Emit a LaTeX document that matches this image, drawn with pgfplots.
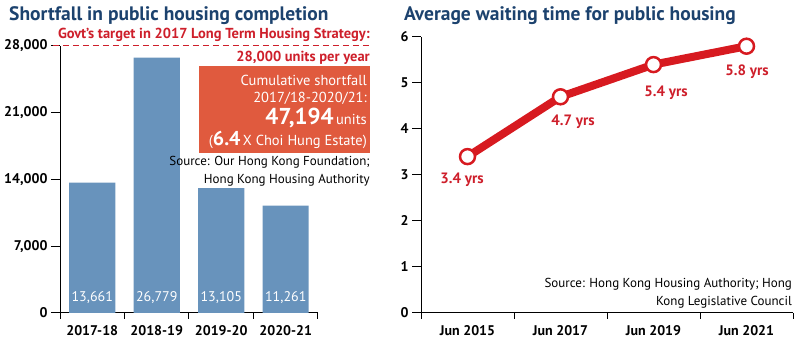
\documentclass[border=0pt]{standalone}
\usepackage{pgfplots}
\pgfplotsset{compat=1.18}
\usepackage{fontspec}
\setmainfont{PT Sans}
\definecolor{navy}{HTML}{1C426E}
\definecolor{barblue}{HTML}{6893BC}
\definecolor{boxred}{HTML}{E05A3E}
\definecolor{linered}{HTML}{D71A20}
\definecolor{txtred}{HTML}{CE1F2B}
\pgfplotsset{
  mystyle/.style={
    scale only axis, anchor=south west,
    xmin=-0.5, xmax=3.5, clip=false,
    axis x line*=bottom, axis y line*=left,
    axis line style={-, line width=1pt, black},
    xtick={0,1,2,3}, major x tick style={draw=none},
    minor xtick={-0.5,0.5,1.5,2.5,3.5},
    minor x tick style={line width=1pt, black},
    tick align=outside,
    major y tick style={line width=1pt, black},
    major tick length=9pt, minor tick length=6pt,
    /pgf/number format/assume math mode=true,
    tick label style={font=\fontsize{14}{15}\selectfont\bfseries},
    scaled y ticks=false,
    yticklabel style={/pgf/number format/1000 sep={,}},
  }
}
\begin{document}
\begin{tikzpicture}[x=1pt,y=1pt]
\path[use as bounding box] (0,0) rectangle (800,339);
\node[anchor=west, inner sep=0, text=navy] at (9,323) {\fontsize{19.5}{21}\selectfont\bfseries Shortfall in public housing completion};
\node[anchor=west, inner sep=0, text=navy] at (404,323) {\fontsize{19.5}{21}\selectfont\bfseries Average waiting time for public housing};

\begin{axis}[mystyle, at={(60pt,26pt)}, width=258pt, height=267pt,
  ymin=0, ymax=28000, ytick={0,7000,14000,21000,28000},
  xticklabels={2017-18,2018-19,2019-20,2020-21}]
\addplot[ybar, fill=barblue, draw=none, bar width=46pt] coordinates {(0,13661) (1,26779) (2,13105) (3,11261)};
\node[text=white, font=\fontsize{14}{15}\selectfont] at (axis cs:0,1573) {13,661};
\node[text=white, font=\fontsize{14}{15}\selectfont] at (axis cs:1,1573) {26,779};
\node[text=white, font=\fontsize{14}{15}\selectfont] at (axis cs:2,1573) {13,105};
\node[text=white, font=\fontsize{14}{15}\selectfont] at (axis cs:3,1573) {11,261};
\draw[txtred, line width=1pt, dash pattern=on 6pt off 4pt] (axis cs:-0.61,28000) -- (axis cs:4.306,28000);
\node[anchor=base east, inner sep=0, text=txtred, font=\fontsize{14.5}{15}\selectfont\bfseries] at (axis cs:4.306,28750) {Govt's target in 2017 Long Term Housing Strategy:};
\node[anchor=base east, inner sep=0, text=txtred, font=\fontsize{14.5}{15}\selectfont\bfseries] at (axis cs:4.306,26400) {28,000 units per year};
\fill[boxred] (axis cs:1.655,25903) rectangle (axis cs:4.306,16779);
\node[anchor=east, inner sep=0, text=white, font=\fontsize{14.5}{16}\selectfont] at (axis cs:4.26,24434) {Cumulative shortfall};
\node[anchor=east, inner sep=0, text=white, font=\fontsize{14.5}{16}\selectfont] at (axis cs:4.26,22547) {2017/18-2020/21:};
\node[anchor=east, inner sep=0, text=white, font=\fontsize{14.5}{16}\selectfont] at (axis cs:4.26,20449) {{\fontsize{23}{24}\selectfont\bfseries 47,194}\,units};
\node[anchor=east, inner sep=0, text=white, font=\fontsize{14.5}{16}\selectfont] at (axis cs:4.26,18142) {({\fontsize{20}{21}\selectfont\bfseries 6.4}\,X Choi Hung Estate)};
\node[anchor=east, inner sep=0, align=right, font=\fontsize{13}{18}\selectfont] at (axis cs:4.306,14891) {Source: Our Hong Kong Foundation;\\Hong Kong Housing Authority};
\end{axis}

\begin{axis}[mystyle, at={(421pt,26pt)}, width=372pt, height=276pt,
  ymin=0, ymax=6, ytick={0,1,2,3,4,5,6},
  xticklabels={Jun 2015,Jun 2017,Jun 2019,Jun 2021}]
\addplot[linered, line width=8pt, mark=*, mark size=7.5pt, mark options={fill=white, draw=linered, line width=2.5pt}] coordinates {(0,3.4) (1,4.7) (2,5.4) (3,5.8)};
\node[text=txtred, font=\fontsize{15}{16}\selectfont\bfseries] at (axis cs:-0.059,2.89) {3.4 yrs};
\node[text=txtred, font=\fontsize{15}{16}\selectfont\bfseries] at (axis cs:1.134,4.15) {4.7 yrs};
\node[text=txtred, font=\fontsize{15}{16}\selectfont\bfseries] at (axis cs:2.134,4.78) {5.4 yrs};
\node[text=txtred, font=\fontsize{15}{16}\selectfont\bfseries] at (axis cs:3.005,5.24) {5.8 yrs};
\node[anchor=east, inner sep=0, align=right, font=\fontsize{13}{18}\selectfont] at (axis cs:3.49,0.43) {Source: Hong Kong Housing Authority; Hong\\Kong Legislative Council};
\end{axis}
\end{tikzpicture}
\end{document}
